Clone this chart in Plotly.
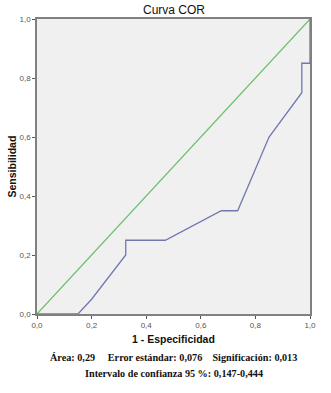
import plotly.graph_objects as go

# ROC curve data (1 - especificidad, sensibilidad)
fpr = [0.0, 0.15, 0.2, 0.325, 0.325, 0.47, 0.675, 0.735, 0.85, 0.97, 0.97, 1.0, 1.0]
tpr = [0.0, 0.0, 0.05, 0.2, 0.25, 0.25, 0.35, 0.35, 0.6, 0.75, 0.85, 0.85, 1.0]
ref_x = [0.0, 1.0]
ref_y = [0.0, 1.0]
tick_vals = [0.0, 0.2, 0.4, 0.6, 0.8, 1.0]
tick_text = ["0,0", "0,2", "0,4", "0,6", "0,8", "1,0"]

fig = go.Figure()
fig.add_trace(go.Scatter(x=ref_x, y=ref_y, mode="lines",
                         line=dict(color="#6CBF6C", width=1.2), showlegend=False))
fig.add_trace(go.Scatter(x=fpr, y=tpr, mode="lines",
                         line=dict(color="#7078B0", width=1.3), showlegend=False))

axis_common = dict(range=[0, 1], tickvals=tick_vals, ticktext=tick_text,
                   ticks="outside", ticklen=3, tickcolor="#555", tickwidth=1,
                   showgrid=False, zeroline=False, showline=True,
                   linecolor="#808080", linewidth=1.5, mirror=True,
                   tickfont=dict(family="Arial, Liberation Sans", size=8, color="#555"))

def ann(text, x, y, size, family, angle=0):
    return dict(text=text, x=x, y=y, xref="paper", yref="paper", showarrow=False,
                xanchor="center", yanchor="middle", textangle=angle,
                font=dict(family=family, size=size, color="#111"))

sans = "Arial, Liberation Sans"
serif = "Liberation Serif, DejaVu Serif"

fig.update_layout(
    width=331, height=393,
    margin=dict(l=37, r=21, t=19, b=79),
    paper_bgcolor="white", plot_bgcolor="#F0F0F0",
    xaxis=dict(**axis_common),
    yaxis=dict(**axis_common),
    annotations=[
        ann("Curva COR", 0.5, 1.031, 12, sans),
        ann("<b>1 - Especificidad</b>", 0.5, -0.085, 10.5, sans),
        ann("<b>Sensibilidad</b>", -0.0916, 0.5, 10.5, sans, angle=-90),
        ann("<b>Área: 0,29&nbsp;&nbsp;&nbsp;&nbsp;&nbsp;Error estándar: 0,076&nbsp;&nbsp;&nbsp;&nbsp;Significación: 0,013</b>",
            0.5, -0.146, 10.2, serif),
        ann("<b>Intervalo de confianza 95 %: 0,147-0,444</b>", 0.5, -0.2, 10.2, serif),
    ],
)
fig.write_html("out.html", config={"displayModeBar": False},
               post_script="document.body.style.margin='0';")
